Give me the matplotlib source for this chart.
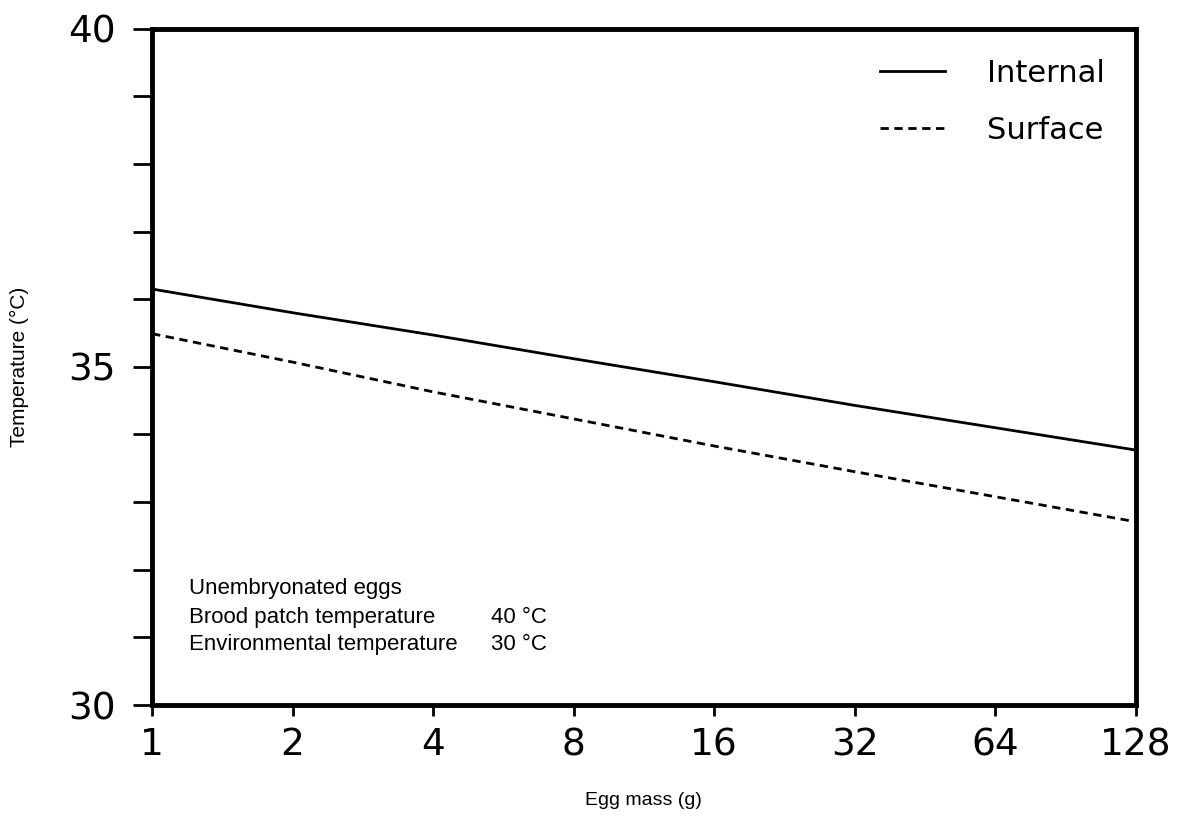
import numpy as np
import matplotlib
matplotlib.use("Agg")
import matplotlib.pyplot as plt

# Egg mass (g) and predicted temperatures (deg C)
egg_mass = [1, 2, 4, 8, 16, 32, 64, 128]
internal_temp = [36.15, 35.80, 35.47, 35.12, 34.78, 34.43, 34.10, 33.77]
surface_temp = [35.49, 35.07, 34.63, 34.23, 33.83, 33.45, 33.08, 32.71]

x_ticks = [1, 2, 4, 8, 16, 32, 64, 128]
y_major = [30, 35, 40]
y_minor = [31, 32, 33, 34, 36, 37, 38, 39]

tick_font = "DejaVu Sans"
label_font = "Liberation Sans"

fig = plt.figure(figsize=(11.88, 8.17), dpi=100)
ax = fig.add_axes([0.128, 0.137, 0.828, 0.828])

ax.plot(egg_mass, internal_temp, color="black", lw=2.0, label="Internal")
ax.plot(egg_mass, surface_temp, color="black", lw=2.0, ls=(0, (3, 2)), label="Surface")

ax.set_xscale("log", base=2)
ax.set_xlim(1, 128)
ax.set_ylim(30, 40)
ax.set_xticks(x_ticks)
ax.set_xticklabels([str(v) for v in x_ticks], fontsize=27, family=tick_font)
ax.xaxis.set_minor_locator(matplotlib.ticker.NullLocator())
ax.set_yticks(y_major)
ax.set_yticklabels([str(v) for v in y_major], fontsize=27, family=tick_font)
ax.set_yticks(y_minor, minor=True)

ax.tick_params(axis="x", which="major", direction="out", length=8, width=2, pad=8)
ax.tick_params(axis="y", which="major", direction="out", length=14, width=2, pad=12)
ax.tick_params(axis="y", which="minor", direction="out", length=14, width=2)

for sp in ax.spines.values():
    sp.set_linewidth(3.5)

ax.set_xlabel("Egg mass (g)", fontsize=14, family=label_font)
ax.xaxis.set_label_coords(0.5, -0.128)
ax.set_ylabel("Temperature (\u00b0C)", fontsize=15, family=label_font)
ax.yaxis.set_label_coords(-0.125, 0.5)

ax.legend(loc="upper right", frameon=False, handlelength=2.1,
          handletextpad=1.4, labelspacing=0.9, borderaxespad=0.6,
          borderpad=0.4, prop={"family": tick_font, "size": 22})

# annotation block in the lower left corner
note_font = dict(fontsize=16, family=label_font, transform=ax.transAxes, va="center")
ax.text(0.038, 0.172, "Unembryonated eggs", **note_font)
ax.text(0.038, 0.129, "Brood patch temperature", **note_font)
ax.text(0.038, 0.090, "Environmental temperature", **note_font)
ax.text(0.345, 0.129, "40 \u00b0C", **note_font)
ax.text(0.345, 0.090, "30 \u00b0C", **note_font)

fig.savefig("out.png", dpi=100)
plt.close(fig)
